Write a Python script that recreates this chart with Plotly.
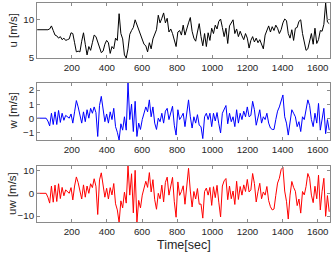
import numpy as np
import plotly.graph_objects as go

# time axis [sec]: 165 samples, evenly spaced over the record
time = np.linspace(3.5, 1665.5, 165)

u = [8.7, 8.7, 8.7, 8.7, 8.7, 8.7, 8.7, 8.8, 9.2, 8.6,
     8.0, 7.9, 7.6, 7.8, 7.4, 7.6, 7.3, 7.4, 7.5, 8.3,
     8.2, 7.0, 5.8, 5.9, 5.8, 7.2, 8.3, 6.8, 5.4, 6.5,
     6.0, 7.0, 8.0, 7.8, 7.0, 6.5, 5.7, 5.9, 6.8, 7.3,
     7.0, 5.6, 6.5, 6.2, 7.6, 7.3, 10.8, 8.2, 7.5, 5.4,
     5.0, 6.2, 8.1, 8.6, 9.0, 10.0, 9.3, 8.8, 8.0, 7.5,
     6.8, 6.6, 5.8, 7.0, 6.2, 7.5, 8.0, 8.7, 10.6, 9.6,
     10.2, 10.9, 9.6, 10.2, 8.4, 8.8, 8.2, 7.4, 6.5, 8.4,
     8.6, 8.0, 9.3, 8.0, 9.0, 9.6, 10.3, 8.5, 7.6, 7.2,
     8.4, 9.5, 7.8, 6.6, 8.2, 6.5, 8.3, 7.3, 8.9, 8.2,
     9.3, 8.8, 9.8, 10.1, 9.0, 7.8, 8.9, 6.9, 9.2, 9.6,
     10.0, 8.2, 8.8, 7.8, 8.5, 7.9, 7.4, 8.2, 7.6, 6.3,
     7.3, 7.8, 7.1, 7.6, 7.0, 7.4, 6.9, 6.2, 8.0, 8.6,
     9.2, 8.4, 9.1, 8.6, 9.3, 8.9, 8.2, 8.7, 9.6, 10.1,
     9.9, 8.2, 7.6, 8.7, 7.3, 8.9, 9.0, 9.8, 10.0, 8.2,
     7.2, 6.0, 6.2, 7.3, 8.2, 6.8, 8.9, 6.9, 7.4, 8.6,
     8.5, 9.4, 12.2, 9.7, 9.5]

w = [0, 0, 0, 0, 0, 0, -0.2, -0.55, 0.35, -0.45,
     0.45, -0.45, 0.55, -0.3, 0.35, -0.15, 0.2, 0.1, 0.0, 0.3,
     -0.35, 0.45, 1.25, 0.8, 0.3, -0.35, 0.45, -0.25, 0.6, 0.0,
     0.7, 0.35, 0.8, 0.4, -1.3, 0.9, 1.55, 0.6, -0.25, 0.3,
     -0.35, 0.45, -0.1, 0.7, -0.6, -1.0, -1.55, -0.4, -0.85, 0.1,
     -0.85, 2.5, -0.1, 1.0, -0.95, 1.2, -1.3, -0.35, -0.8, -0.1,
     0.35, 0.8, 0.45, 1.3, 0.1, 0.8, -0.35, -0.8, 0.0, -0.25,
     0.35, -0.35, 0.5, 0.7, -0.1, 0.35, 0.85, -0.5, -1.2, 0.6,
     -0.1, 0.1, 0.35, -0.6, 0.3, 1.3, 0.1, -0.7, 0.1, -0.35,
     0.25, -0.5, -0.6, -1.45, 0.1, 0.35, -0.1, 0.35, -0.6, 0.35,
     -0.2, 0.4, -0.4, -1.05, 0.35, 0.7, 0.9, -0.4, 0.35, -0.25,
     0.1, -0.6, 0.6, -0.35, 0.35, -0.1, 0.5, 0.1, 0.8, 0.1,
     0.2, 1.2, 0.6, -0.5, 0.1, 0.6, -0.35, 0.1, -0.1, 0.35,
     -0.35, -0.7, -0.8, -0.8, -0.1, 0.5, 0.8, 1.2, 1.65, 0.1,
     -0.35, -1.2, -0.1, 0.6, 0.35, 0.1, -0.6, -0.25, -0.95, 0.1,
     -0.1, 0.5, 1.3, 0.9, -0.1, -0.6, 0.35, -0.35, 1.05, -0.85,
     0.1, 0.7, -1.1, -0.1, -0.85]

uw = [0, 0, 0, 0, 0, 0, -1.7, -4.3, 3.2, -3.9,
      3.6, -3.6, 4.2, -2.3, 2.6, -1.1, 1.5, 0.7, 0.0, 2.5,
      -2.9, 3.2, 7.2, 4.7, 1.7, -2.5, 3.7, -1.7, 3.2, 0.0,
      4.2, 2.5, 6.4, 3.1, -9.3, 5.9, 9.0, 3.5, -1.7, 2.2,
      -2.5, 2.5, -0.7, 4.3, -4.6, -7.3, -12.8, -3.3, -6.4, 0.5,
      -4.3, 12.2, -0.8, 8.6, -8.6, 10.1, -12.8, -3.1, -6.4, -0.8,
      2.4, 5.3, 2.6, 9.1, 0.6, 6.0, -2.8, -7.0, 0.0, -2.4,
      3.6, -3.8, 4.8, 7.1, -0.8, 3.1, 7.0, -3.7, -10.5, 5.0,
      -0.9, 0.8, 3.3, -4.8, 2.7, 11.0, 1.0, -6.0, 0.8, -2.5,
      2.1, -4.8, -4.7, -10.9, 0.8, 2.3, -0.8, 2.6, -5.3, 2.9,
      -1.9, 3.5, -3.9, -10.4, 3.2, 5.5, 6.5, -2.8, 3.2, -2.4,
      1.0, -4.9, 5.3, -2.7, 3.0, -0.8, 3.7, 0.8, 6.1, 0.6,
      1.5, 8.7, 4.3, -3.8, 0.7, 4.4, -2.4, 0.6, -0.8, 3.0,
      -3.2, -5.9, -7.3, -6.9, -0.9, 4.5, 6.6, 10.4, 11.5, 1.0,
      -3.5, -11.3, -0.8, 5.2, 2.6, 0.9, -5.4, -2.5, -8.7, 0.8,
      -0.7, 3.0, 8.7, 6.6, -0.8, -4.1, 3.1, -2.4, 8.0, -7.3,
      0.9, 6.6, -10.1, -1.0, -8.1]

x_ticks = [200, 400, 600, 800, 1000, 1200, 1400, 1600]
y_titles = ["u [m/s]", "w [m/s]", "uw [m/s]"]
x_title = "Time[sec]"

FONT = "Liberation Sans"
TXT = "#262626"
AX = "#8a8a8a"

fig = go.Figure()
fig.add_trace(go.Scatter(x=time, y=u, mode="lines", line=dict(color="#000000", width=1),
                         xaxis="x", yaxis="y", showlegend=False, hoverinfo="skip"))
fig.add_trace(go.Scatter(x=time, y=w, mode="lines", line=dict(color="#0000ff", width=1),
                         xaxis="x2", yaxis="y2", showlegend=False, hoverinfo="skip"))
fig.add_trace(go.Scatter(x=time, y=uw, mode="lines", line=dict(color="#ff0000", width=1),
                         xaxis="x3", yaxis="y3", showlegend=False, hoverinfo="skip"))

H = 219.0
def dom(top_px, bot_px):
    return [(222 - bot_px) / H, (222 - top_px) / H]

domains = [dom(3, 58), dom(83, 140), dom(166, 222)]
yranges = [[5, 12.2], [-1.55, 2.5], [-12.6, 12.0]]
yticks = [[5, 10], [-1, 0, 1, 2], [-10, 0, 10]]

tick_font = dict(family=FONT, size=9.7, color=TXT)
common_x = dict(range=[2.4, 1670], tickvals=x_ticks, ticks="inside", ticklen=3,
                tickcolor=AX, showline=True, linecolor=AX, linewidth=1, mirror="allticks",
                showgrid=False, zeroline=False, tickfont=tick_font,
                ticklabeloverflow="allow")
common_y = dict(ticks="inside", ticklen=3, tickcolor=AX, showline=True, linecolor=AX,
                linewidth=1, mirror="allticks", showgrid=False, zeroline=False,
                tickfont=tick_font)

layout = dict(width=332, height=255, margin=dict(l=37, r=2, t=3, b=33),
              paper_bgcolor="white", plot_bgcolor="white",
              font=dict(family=FONT, size=10, color=TXT))
for i in range(3):
    xs = "xaxis" if i == 0 else f"xaxis{i+1}"
    ys = "yaxis" if i == 0 else f"yaxis{i+1}"
    yref = "y" if i == 0 else f"y{i+1}"
    xref = "x" if i == 0 else f"x{i+1}"
    layout[xs] = dict(common_x, anchor=yref)
    layout[ys] = dict(common_y, anchor=xref, domain=domains[i], range=yranges[i],
                      tickvals=yticks[i])

annotations = []
for i in range(3):
    annotations.append(dict(text=y_titles[i], xref="paper", yref="paper", x=0,
                            y=(domains[i][0] + domains[i][1]) / 2, xshift=-25,
                            xanchor="center", yanchor="middle", textangle=-90,
                            showarrow=False, font=dict(family=FONT, size=11.5, color=TXT)))
annotations.append(dict(text=x_title, xref="paper", yref="paper", x=0.5, y=0,
                        yshift=-23, xanchor="center", yanchor="middle", showarrow=False,
                        font=dict(family=FONT, size=12.5, color=TXT)))
layout["annotations"] = annotations

fig.update_layout(**layout)
fig.write_html("out.html", config={"displayModeBar": False},
               post_script="document.body.style.margin='0';document.body.style.overflow='hidden';")
